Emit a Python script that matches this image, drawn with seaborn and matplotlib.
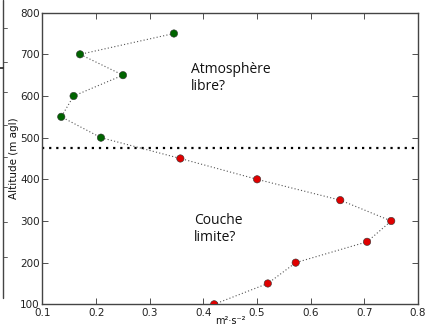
import matplotlib
matplotlib.use("Agg")
import matplotlib.pyplot as plt
import seaborn as sns
import pandas as pd
from matplotlib.lines import Line2D

# data
altitude = [750, 700, 650, 600, 550, 500, 450, 400, 350, 300, 250, 200, 150, 100]
variance = [0.345, 0.17, 0.25, 0.158, 0.135, 0.209, 0.357, 0.50, 0.655, 0.75, 0.705, 0.572, 0.52, 0.42]
layer = ["free"] * 6 + ["boundary"] * 8
boundary_height = 475
xticks = [0.1, 0.2, 0.3, 0.4, 0.5, 0.6, 0.7, 0.8]
yticks = [100, 200, 300, 400, 500, 600, 700, 800]

df = pd.DataFrame({"alt": altitude, "var": variance, "layer": layer})

sns.set_style("ticks")
plt.rcParams["font.family"] = ["DejaVu Sans"]

fig = plt.figure(figsize=(4.27, 3.25), dpi=100)
ax = fig.add_axes([0.0995, 0.0637, 0.8795, 0.8973])

sns.lineplot(data=df, x="var", y="alt", sort=False, estimator=None, ax=ax,
             color="#555555", lw=0.8, linestyle=(0, (1, 2)), zorder=2)
sns.scatterplot(data=df, x="var", y="alt", hue="layer",
                palette={"free": "#006400", "boundary": "#e00000"},
                s=28, edgecolor="#333333", linewidth=0.4, ax=ax, legend=False, zorder=3)

ax.axhline(boundary_height, color="black", lw=1.6, linestyle=(0, (1, 2.2)), zorder=1)

ax.set_xlim(0.1, 0.8)
ax.set_ylim(100, 800)
ax.set_xticks(xticks)
ax.set_yticks(yticks)
ax.set_xticklabels([f"{v:g}" for v in xticks])
ax.tick_params(direction="in", top=True, right=True, labelsize=7.5, length=4,
               width=0.6, color="#333333", labelcolor="#222222", pad=2)
ax.tick_params(axis="x", pad=3)
for s in ax.spines.values():
    s.set_color("#444444")
    s.set_linewidth(1.0)

ax.set_ylabel("Altitude (m agl)", fontsize=7.5, labelpad=1, color="#111111")
ax.set_xlabel("m²·s⁻²", fontsize=7, labelpad=-2, color="#111111")

ax.text(0.376, 643, "Atmosphère\nlibre?", fontsize=10, family=["Open Sans", "DejaVu Sans"],
        ha="left", va="center", linespacing=1.15, color="#111111")
ax.text(0.383, 281, "Couche\nlimite?", fontsize=10, family=["Open Sans", "DejaVu Sans"],
        ha="left", va="center", linespacing=1.15, color="#111111")

# fragment of neighbouring panel at left edge
W, H = 427, 325
fig.add_artist(Line2D([3 / W, 3 / W], [1, 1 - 298 / H], transform=fig.transFigure,
                      color="#444444", lw=1.0))
for yp in [28, 62, 92, 125, 157, 187, 222, 257]:
    fig.add_artist(Line2D([3 / W, 7 / W], [1 - yp / H, 1 - yp / H], transform=fig.transFigure,
                          color="#444444", lw=0.6))
fig.add_artist(Line2D([0, 3 / W], [1 - 68 / H, 1 - 68 / H], transform=fig.transFigure,
                      color="#222222", lw=1.2))

fig.savefig("out.png", dpi=100)
